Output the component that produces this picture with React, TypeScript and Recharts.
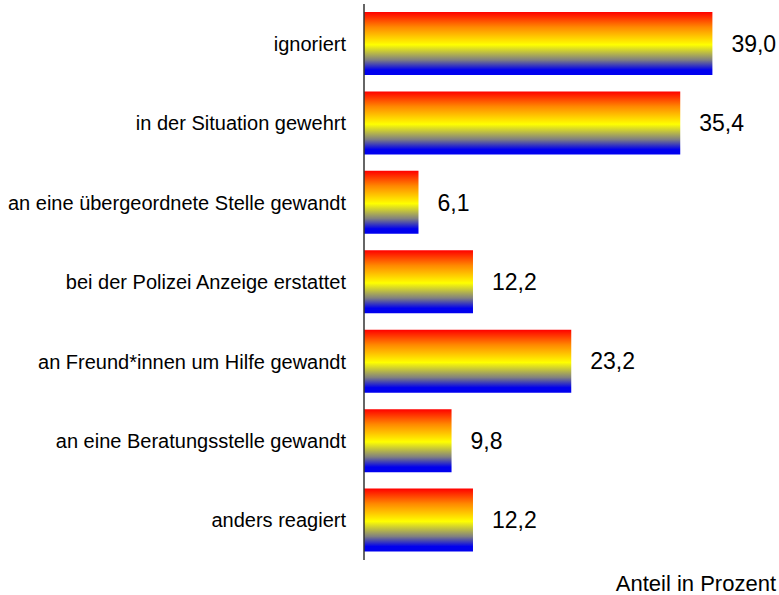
import { BarChart, Bar, XAxis, YAxis, LabelList } from "recharts";

const categories = [
  "ignoriert",
  "in der Situation gewehrt",
  "an eine übergeordnete Stelle gewandt",
  "bei der Polizei Anzeige erstattet",
  "an Freund*innen um Hilfe gewandt",
  "an eine Beratungsstelle gewandt",
  "anders reagiert",
];
const values = [39.0, 35.4, 6.1, 12.2, 23.2, 9.8, 12.2];
const axisTitle = "Anteil in Prozent";

const data = categories.map((name, i) => ({ name, value: values[i] }));

const fmt = (v: number) => v.toFixed(1).replace(".", ",");

export default function App() {
  return (
    <div
      style={{
        position: "absolute",
        left: 0,
        top: 0,
        width: 779,
        height: 595,
        background: "#fff",
        fontFamily: "'Liberation Sans', Arial, sans-serif",
      }}
    >
      <BarChart
        width={779}
        height={595}
        data={data}
        layout="vertical"
        margin={{ top: 4, right: 13, left: 0, bottom: 35 }}
        barCategoryGap={8}
      >
        <defs>
          <linearGradient id="rainbow" x1="0" y1="0" x2="0" y2="1">
            <stop offset="0%" stopColor="#ff0000" />
            <stop offset="24%" stopColor="#ff8800" />
            <stop offset="52%" stopColor="#ffff00" />
            <stop offset="76%" stopColor="#808080" />
            <stop offset="92%" stopColor="#0000ee" />
            <stop offset="100%" stopColor="#0000ee" />
          </linearGradient>
        </defs>
        <XAxis type="number" domain={[0, 45]} hide />
        <YAxis
          type="category"
          dataKey="name"
          width={364}
          tickLine={false}
          tickSize={0}
          tickMargin={18}
          axisLine={{ stroke: "#333", strokeWidth: 1.5 }}
          tick={{ fontSize: 20, fill: "#000" }}
        />
        <Bar dataKey="value" fill="url(#rainbow)" isAnimationActive={false}>
          <LabelList
            dataKey="value"
            position="right"
            offset={19}
            formatter={(v: any) => fmt(Number(v))}
            style={{ fontSize: 23, fill: "#000" }}
          />
        </Bar>
      </BarChart>
      <div
        style={{
          position: "absolute",
          right: 3,
          top: 571,
          fontSize: 22,
          color: "#000",
          lineHeight: "25px",
        }}
      >
        {axisTitle}
      </div>
    </div>
  );
}
